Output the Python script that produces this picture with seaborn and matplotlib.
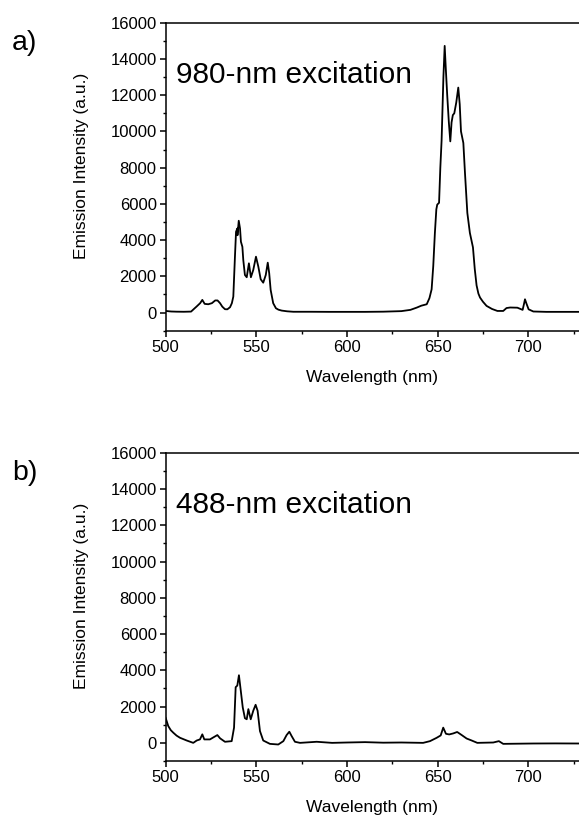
import numpy as np
import pandas as pd
import matplotlib
matplotlib.use("Agg")
import matplotlib.pyplot as plt
import seaborn as sns
from matplotlib.ticker import MultipleLocator

# Emission spectra (wavelength in nm, intensity in a.u.)
wl_a = [500, 503, 506, 510, 514, 516, 517, 519, 520.2, 521.5, 523.5, 525.5, 527.3,
        528.6, 530, 531.2, 532.7, 534.0, 535.5, 536.5, 537.3, 538.2, 538.8, 539.5,
        539.6, 540.3, 541.0, 541.5, 542.3, 542.8, 543.7, 544.7, 545.9, 547.0, 548.3,
        549.8, 551.1, 552.4, 553.8, 555.2, 556.3, 557.1, 557.9, 559.3, 560.8, 562.2,
        564.0, 567, 570.4, 580, 590, 600, 610, 620, 630, 635, 638.5,
        641, 644, 645.5, 646.7, 647.6, 648.5, 649.3, 649.8, 650.8, 651.5, 652.2, 653.2,
        653.9, 654.5, 655.3, 656.2, 657.0, 657.7, 658.4, 659.2, 660.3, 661.4, 662.2,
        662.9, 664.2, 665.1, 666.4, 667.8, 669.5, 670.5, 671.5, 672.5, 673.4, 675, 677,
        680, 683, 686.2, 688, 690, 694, 696.9, 697.6, 698.2, 699.0, 700.2, 702.8, 710,
        720, 728]
int_a = [90, 60, 50, 45, 55, 240, 330, 520, 700, 480, 460, 520, 670,
         670, 517, 330, 187, 180, 297, 520, 881, 3085, 4460, 4640,
         4270, 5070, 4640, 3910, 3630, 2900, 2075, 1950, 2720, 1950, 2350,
         3085, 2535, 1840, 1650, 2075, 2755, 2170, 1250, 517, 240, 160,
         110, 70, 45, 45, 40, 40, 40, 50, 80, 150, 275,
         380, 460, 800, 1285, 2570, 4400, 5700, 5960, 6060, 8000, 9500, 13000,
         14720, 13500, 12000, 10500, 9450, 10500, 10900, 11000, 11600, 12420, 11500,
         10000, 9360, 7700, 5500, 4400, 3600, 2400, 1500, 1050, 830, 600, 370,
         200, 90, 90, 250, 280, 270, 150, 450, 734, 500, 180, 60, 40,
         40, 40]

wl_b = [499.9, 501.4, 502.8, 504.2, 506.0, 507.9, 511.6, 515.2, 517.1, 518.9, 520.2,
        521.3, 524.4, 526.6, 528.5, 530.0, 532.7, 536.4, 537.7, 538.6, 539.5, 540.4,
        541.4, 542.5, 543.7, 544.7, 545.6, 546.9, 548.3, 549.6, 550.7, 552.0, 553.8,
        557.5, 562.1, 564.9, 566.7, 568.2, 569.5, 571.3, 574.1, 583.3, 591.8,
        600, 610, 620, 630, 642.0, 645.8, 649.5, 651.7, 653.1, 654.6, 656.4, 658.6,
        660.8, 663.3, 666.0, 668.8, 671.9, 680.7, 683.8, 686.2, 702.8, 715, 728]
int_b = [1400, 930, 700, 560, 400, 280, 130, 0, 130, 190, 470,
         190, 190, 320, 430, 250, 60, 95, 840, 3070, 3160, 3730,
         2890, 1960, 1360, 1300, 1860, 1300, 1770, 2100, 1770, 650, 130,
         -55, -90, 95, 430, 615, 370, 60, 0, 60, 0,
         20, 40, 10, 20, 0, 95, 280, 410, 840, 500, 465, 520,
         600, 430, 240, 130, 0, 20, 95, -55, -35, -30, -35]

panels = ["a)", "b)"]
captions = ["980-nm excitation", "488-nm excitation"]
y_ticks = list(range(0, 16001, 2000))
x_ticks = [500, 550, 600, 650, 700]

sns.set_style("ticks")
plt.rcParams['font.family'] = ['Liberation Sans', 'DejaVu Sans']
plt.rcParams.update({"text.color": "black", "axes.labelcolor": "black",
                     "xtick.color": "black", "ytick.color": "black"})

W, H = 579, 819
fig = plt.figure(figsize=(W / 100, H / 100), dpi=100)

# axes boxes in pixels: (left, top, bottom)
boxes = [(165.7, 22.7, 330.7), (165.7, 452.7, 761.0)]
spectra = [(wl_a, int_a), (wl_b, int_b)]

for (left, top, bottom), (wl, inten), lab, cap in zip(boxes, spectra, panels, captions):
    ax = fig.add_axes([left / W, 1 - bottom / H, (W - left) / W, (bottom - top) / H])
    df = pd.DataFrame({"wl": wl, "I": inten})
    sns.lineplot(data=df, x="wl", y="I", ax=ax, color="black", lw=1.3,
                 estimator=None)
    ax.set_xlim(500, 728)
    ax.set_ylim(-1000, 16000)
    ax.set_xticks(x_ticks)
    ax.set_yticks(y_ticks)
    ax.xaxis.set_minor_locator(MultipleLocator(25))
    ax.yaxis.set_minor_locator(MultipleLocator(1000))
    ax.tick_params(which="major", direction="out", length=4.5, width=1.1,
                   labelsize=12, pad=2, color="black")
    ax.tick_params(which="minor", direction="out", length=2.5, width=1.0,
                   color="black")
    for s in ["left", "bottom", "top"]:
        ax.spines[s].set_linewidth(1.1)
        ax.spines[s].set_color("black")
    ax.spines["right"].set_visible(False)
    ax.set_xlabel("Wavelength (nm)", fontsize=12.5)
    ax.set_ylabel("Emission Intensity (a.u.)", fontsize=12.5)
    ax.yaxis.set_label_coords(-0.186, 0.535)
    ax.xaxis.set_label_coords(0.5, -0.126)
    ax.text(0.025, 0.805, cap, transform=ax.transAxes, fontsize=21.5,
            va="baseline", ha="left")
    fig.text(12 / W, 1 - (top + 27) / H, lab, fontsize=20.5,
             va="baseline", ha="left")

fig.savefig("out.png", dpi=100)
